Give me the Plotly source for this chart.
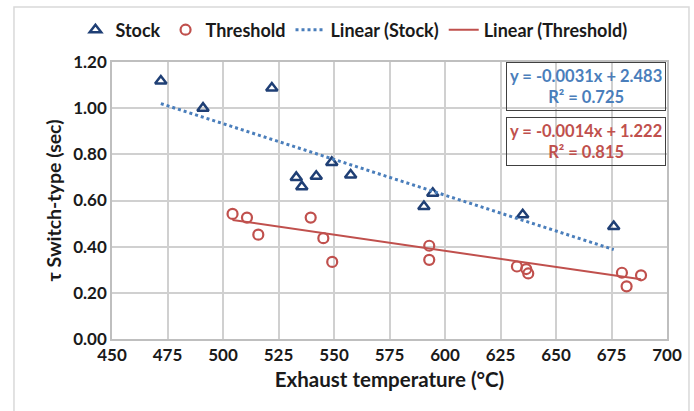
import plotly.graph_objects as go
import numpy as np

# Data
stock_x = [472, 491, 522, 533, 535.5, 542, 549, 557.5, 590.5, 594.5, 635, 676]
stock_y = [1.118, 1.00, 1.087, 0.70, 0.66, 0.705, 0.765, 0.71, 0.574, 0.631, 0.538, 0.487]

thr_x = [504.3, 510.8, 515.9, 539.5, 545.2, 549.2, 592.9, 592.9, 632.4, 636.6, 637.5, 679.7, 681.8, 688.3]
thr_y = [0.542, 0.526, 0.452, 0.526, 0.437, 0.334, 0.404, 0.343, 0.314, 0.303, 0.284, 0.287, 0.228, 0.276]

stock_fit = (-0.0031, 2.483, 0.725)
thr_fit = (-0.0014, 1.222, 0.815)

x_ticks = [450, 475, 500, 525, 550, 575, 600, 625, 650, 675, 700]
y_ticks = [0.0, 0.2, 0.4, 0.6, 0.8, 1.0, 1.2]

FONT = "Lato"
NAVY = "#1f3f75"
BLUE = "#4a7ebb"
RED = "#c0504d"
TXT = "#1a1a1a"

sx = np.array([min(stock_x), max(stock_x)])
tx = np.array([min(thr_x), max(thr_x)])

fig = go.Figure()
fig.add_trace(go.Scatter(x=stock_x, y=stock_y, mode="markers", name="Stock",
                         marker=dict(symbol="triangle-up-open", size=10, color=NAVY,
                                     line=dict(width=2.5, color=NAVY))))
fig.add_trace(go.Scatter(x=thr_x, y=thr_y, mode="markers", name="Threshold",
                         marker=dict(symbol="circle-open", size=10, color=RED,
                                     line=dict(width=2.2, color=RED))))
fig.add_trace(go.Scatter(x=sx, y=stock_fit[0] * sx + stock_fit[1], mode="lines",
                         name="Linear (Stock)", line=dict(color=BLUE, width=3, dash="dot")))
fig.add_trace(go.Scatter(x=tx, y=thr_fit[0] * tx + thr_fit[1], mode="lines",
                         name="Linear (Threshold)", line=dict(color=RED, width=2)))

def eq_text(fit):
    return f"y = {fit[0]:.4f}x + {fit[1]:.3f}<br>R² = {fit[2]:.3f}"

for fit, col, ytop in [(stock_fit, BLUE, 0.999), (thr_fit, RED, 0.803)]:
    fig.add_annotation(xref="paper", yref="paper", x=0.998, y=ytop, xanchor="right", yanchor="top",
                       text=eq_text(fit), showarrow=False, align="center",
                       font=dict(family=FONT, size=16.5, color=col, weight="bold"),
                       bordercolor="#404040", borderwidth=1, borderpad=3, bgcolor="rgba(0,0,0,0)")

# outer chart frame
fig.add_shape(type="rect", xref="paper", yref="paper", x0=-0.1766, x1=1.0396, y0=-0.4, y1=1.199,
              line=dict(color="#d9d9d9", width=1.5), fillcolor="rgba(0,0,0,0)", layer="below")

fig.update_layout(
    width=694, height=411,
    margin=dict(l=112, r=27, t=62, b=71.5, autoexpand=False),
    paper_bgcolor="white", plot_bgcolor="white",
    font=dict(family=FONT, color=TXT, weight="bold"),
    legend=dict(orientation="h", xref="container", yref="container",
                x=0.51, xanchor="center", y=0.972, yanchor="top",
                font=dict(size=18, family=FONT, color=TXT, weight="bold"),
                itemwidth=30, tracegroupgap=0, bgcolor="rgba(0,0,0,0)"),
    showlegend=True,
)
fig.update_xaxes(range=[450, 700], tickvals=x_ticks, ticktext=[str(v) for v in x_ticks],
                 showgrid=True, gridcolor="#d0d0d0", gridwidth=1.5,
                 showline=True, linecolor="#bfbfbf", linewidth=1.5, mirror=True,
                 zeroline=False, ticks="", tickfont=dict(size=17, family=FONT, color=TXT, weight="bold"),
                 title=dict(text="Exhaust temperature (°C)", standoff=8,
                            font=dict(size=20.5, family=FONT, color=TXT, weight="bold")))
fig.update_yaxes(range=[0, 1.2], tickvals=y_ticks, ticktext=[f"{v:.2f}" for v in y_ticks],
                 showgrid=True, gridcolor="#d0d0d0", gridwidth=1.5,
                 showline=True, linecolor="#bfbfbf", linewidth=1.5, mirror=True,
                 zeroline=False, ticks="", ticklen=0,
                 tickfont=dict(size=17, family=FONT, color=TXT, weight="bold"),
                 title=dict(text="τ Switch-type (sec)", standoff=6,
                            font=dict(size=19.5, family=FONT, color=TXT, weight="bold")))

fig.write_html("out.html")
